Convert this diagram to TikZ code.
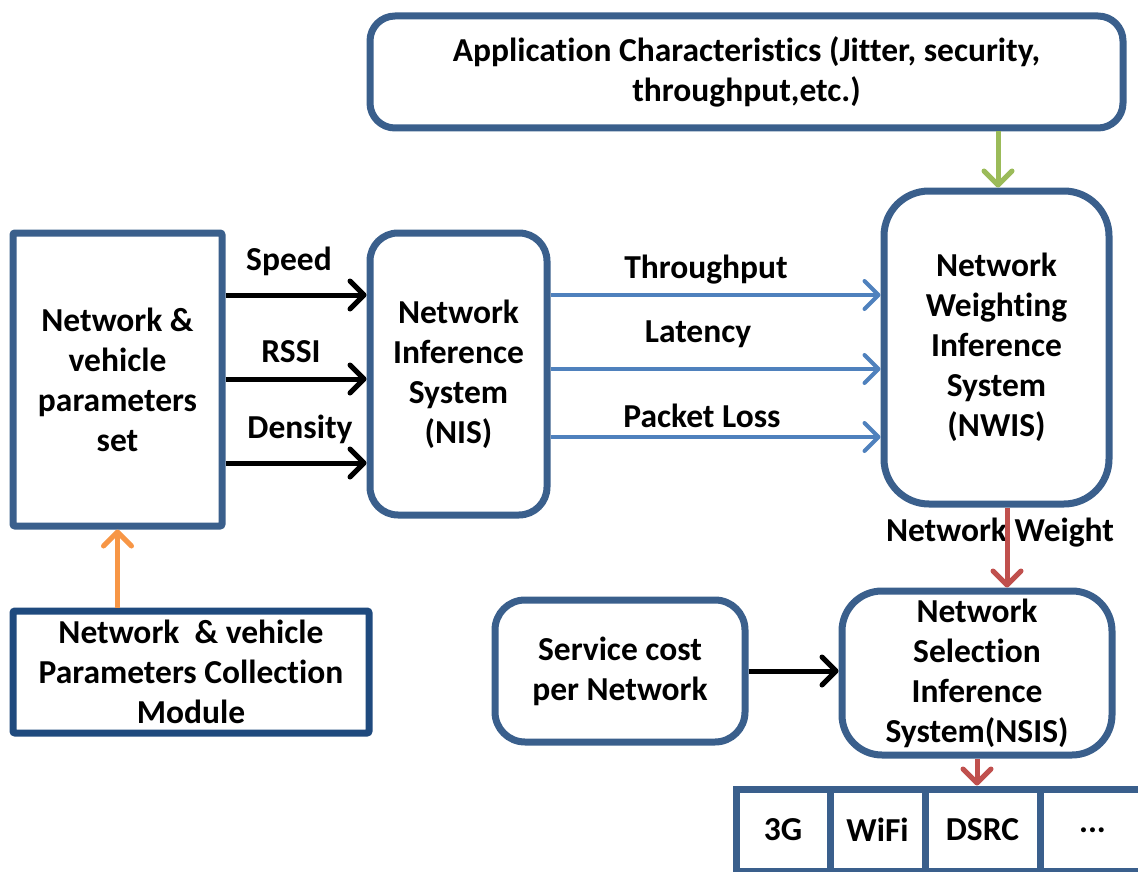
\documentclass[tikz,border=0pt]{standalone}
\usepackage{fontspec}
\setmainfont{Carlito}[RawFeature={-liga;-clig;-dlig;-calt}]
\usetikzlibrary{arrows.meta}
\newcommand{\tIx}{t\kern0pt i}
\definecolor{bord}{HTML}{3A5F8C}
\definecolor{navy}{HTML}{1F4A7E}
\definecolor{barrow}{HTML}{4F81BD}
\definecolor{garrow}{HTML}{9BBB59}
\definecolor{rarrow}{HTML}{C0504D}
\definecolor{oarrow}{HTML}{F79646}
\tikzset{
  box/.style={draw=bord, line width=7pt, fill=white, align=center, inner sep=0pt},
  lbl/.style={inner sep=0pt},
  tipA/.style={-{Straight Barb[length=14pt,width=28pt,round]}},
  karr/.style={tipA, line width=5pt, draw=black},
  barr/.style={tipA, line width=4pt, draw=barrow},
  garr/.style={tipA, line width=5pt, draw=garrow},
  rarr/.style={tipA, line width=5pt, draw=rarrow},
  oarr/.style={tipA, line width=5pt, draw=oarrow},
}
\begin{document}
\begin{tikzpicture}[x=1pt,y=-1pt,font=\bfseries\fontsize{33.5}{40}\selectfont]
\useasboundingbox (0,0) rectangle (1138,872);
\clip (0,0) rectangle (1138,872);
% boxes
\node[box, rounded corners=2pt, minimum width=209pt, minimum height=293pt] (A) at (117.5,379.5) {Network \&\\vehicle\\parameters\\set};
\node[box, rounded corners=28pt, minimum width=177pt, minimum height=282pt] (NIS) at (458.5,374) {Network\\Inference\\System\\(NIS)};
\node[box, rounded corners=45pt, minimum width=225pt, minimum height=313pt] (NWIS) at (996.5,347.5) {Network\\Weigh\tIx ng\\Inference\\System\\(NWIS)};
\node[box, rounded corners=25pt, minimum width=753pt, minimum height=112pt] (App) at (746.5,72) {Applica\tIx on Characteris\tIx cs (Ji\kern0pt tter, security,\\throughput,etc.)};
\node[box, rounded corners=40pt, minimum width=270pt, minimum height=164pt] (NSIS) at (977,673) {Network\\Selec\tIx on\\Inference\\System(NSIS)};
\node[box, rounded corners=30pt, minimum width=250pt, minimum height=142pt] (Svc) at (620,671) {Service cost\\per Network};
\node[box, draw=navy, rounded corners=2pt, minimum width=356pt, minimum height=122pt] (Col) at (191,672) {Network~~\& vehicle\\Parameters Collec\tIx on\\Module};
% network cells
\node[box, minimum width=94pt, minimum height=82pt] (c1) at (783,830) {3G};
\node[box, minimum width=95pt, minimum height=82pt] (c2) at (877.5,830) {WiFi};
\node[box, minimum width=115pt, minimum height=82pt] (c3) at (982.5,830) {DSRC};
\node[box, minimum width=105pt, minimum height=82pt] (c4) at (1092.5,830) {...};
% y levels
\coordinate (ySpeed) at (0,295);
\coordinate (yRSSI) at (0,379);
\coordinate (yDens) at (0,463);
\coordinate (yThr) at (0,295);
\coordinate (yLat) at (0,369);
\coordinate (yPL) at (0,437);
\coordinate (xG) at (998,0);
\coordinate (xW) at (1007,0);
% labels
\node[lbl] (lSpeed) at (289,261) {Speed};
\node[lbl] (lRSSI) at (291,352) {RSSI};
\node[lbl] (lDens) at (300,429) {Density};
\node[lbl] (lThr) at (706,270) {Throughput};
\node[lbl] (lLat) at (698,334) {Latency};
\node[lbl] (lPL) at (702,416) {Packet Loss};
\node[lbl] (lNW) at (1000,533) {Network Weight};
% connectors
\draw[karr] (A.east |- ySpeed) -- (NIS.west |- ySpeed);
\draw[karr] (A.east |- yRSSI) -- (NIS.west |- yRSSI);
\draw[karr] (A.east |- yDens) -- (NIS.west |- yDens);
\draw[barr] (NIS.east |- yThr) -- (NWIS.west |- yThr);
\draw[barr] (NIS.east |- yLat) -- (NWIS.west |- yLat);
\draw[barr] (NIS.east |- yPL) -- (NWIS.west |- yPL);
\draw[garr] (xG |- App.south) -- (xG |- NWIS.north);
\draw[rarr] (xW |- NWIS.south) -- (xW |- NSIS.north);
\draw[karr] (Svc.east) -- (NSIS.west |- Svc.east);
\draw[rarr] (NSIS.south) -- (NSIS.south |- c3.north);
\draw[oarr] (A.south |- Col.north) -- (A.south);
\end{tikzpicture}
\end{document}
